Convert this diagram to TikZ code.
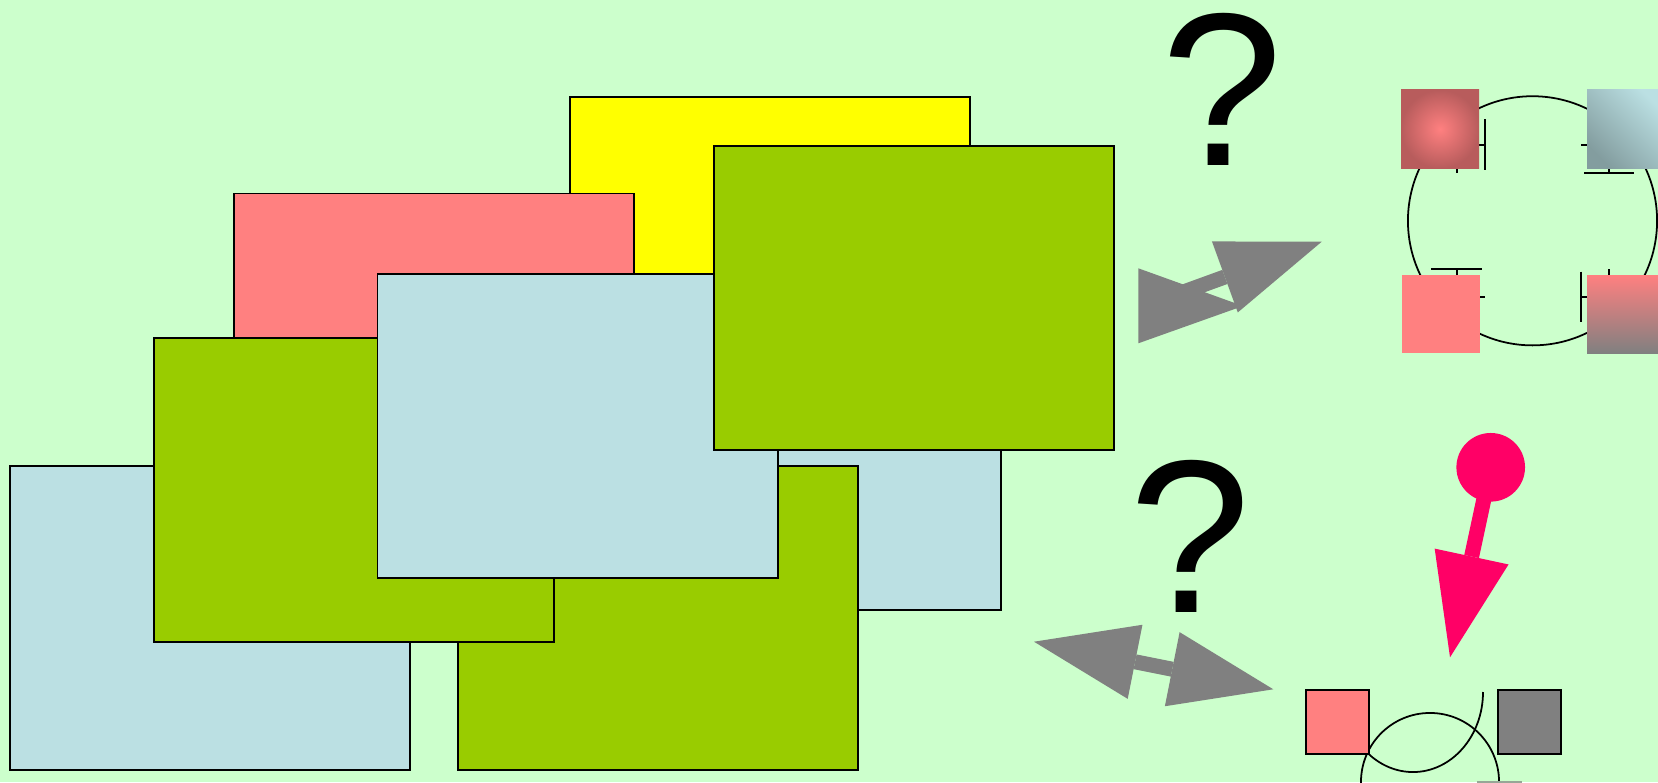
\documentclass[tikz,border=0pt]{standalone}
\usepackage{fontspec}
\setmainfont{Liberation Sans}
\usetikzlibrary{arrows.meta}
\definecolor{mint}{HTML}{CCFFCC}
\definecolor{paleblue}{HTML}{BBE0E3}
\definecolor{leaf}{HTML}{99CC00}
\definecolor{salmon}{HTML}{FF8080}
\definecolor{hotpink}{HTML}{FF0066}
\definecolor{midgray}{HTML}{808080}
\definecolor{lemon}{HTML}{FFFF00}
\tikzset{fathead/.tip={Triangle[length=1.03cm,width=0.755cm,line width=0pt]}}
\begin{document}
\begin{tikzpicture}[x=0.01cm,y=-0.01cm,
    card/.style={rectangle,draw,line width=0.55pt,anchor=north west,inner sep=0,outer sep=0,
      minimum width=4cm,minimum height=3.04cm},
    tile/.style={rectangle,anchor=north west,inner sep=0,outer sep=0,minimum size=0.78cm},
    box/.style={rectangle,draw,line width=0.55pt,anchor=north west,inner sep=0,outer sep=0,minimum size=0.635cm},
    qmark/.style={inner sep=0,font=\fontsize{62}{62}\selectfont},
    fatarrow/.style={line width=0.15cm,-fathead},
    tick/.style={line width=0.5pt}]
  \useasboundingbox (0,0) rectangle (1658,782);
  \fill[mint] (0,0) rectangle (1658,782);

  % stack of cards, back to front
  \node[card,fill=lemon]     (cardY)  at (570,97.3)   {};
  \node[card,fill=salmon]    (cardP)  at (233.7,193.5) {};
  \node[card,fill=paleblue]  (cardB1) at (10,466)     {};
  \node[card,fill=paleblue]  (cardB2) at (601,306)    {};
  \node[card,fill=leaf]      (cardG1) at (458,466)    {};
  \node[card,fill=leaf]      (cardG2) at (154,338)    {};
  \node[card,fill=paleblue]  (cardB3) at (377.5,274)  {};
  \node[card,fill=leaf]      (cardG3) at (713.7,145.9) {};

  % question marks
  \node[qmark] (askTop) at (1222.5,89.5) {?};
  \node[qmark] (askLow) at (1190.3,536.7) {?};

  % gray arrows
  \coordinate (upFrom) at (1167.8,297.7);
  \coordinate (upTo) at (1321.7,241.7);
  \fill[midgray] (1138.3,268.3) -- (1138.3,343.3) -- (1243,306) -- cycle;
  \draw[fatarrow,midgray] (upFrom) -- (upTo);
  \coordinate (lowL) at (1034,641.7);
  \coordinate (lowR) at (1273.3,689.3);
  \draw[fatarrow,fathead-fathead,midgray] (lowL) -- (lowR);

  % ring with four tiles
  \node[circle,draw,line width=0.5pt,minimum size=2.49cm,inner sep=0] (ring) at (1532.5,220.8) {};
  \draw[tick] (1485.3,119.3) -- (1485.3,170) (1470,145) -- (1485.3,145) (1456.7,160) -- (1456.7,173.3);
  \draw[tick] (1581,145) -- (1595,145) (1584,173.3) -- (1634.3,173.3) (1609,160) -- (1609,173.3);
  \draw[tick] (1431,269) -- (1481.7,269) (1456.7,269) -- (1456.7,285) (1470,297.3) -- (1485,297.3);
  \draw[tick] (1580.7,271.7) -- (1580.7,322.3) (1580.7,297.3) -- (1595,297.3) (1609,269.3) -- (1609,285);
  \node[tile,inner color=salmon,outer color=salmon!72!black] (tileA) at (1401,90) {};
  \node[tile,top color=paleblue,bottom color=paleblue!70!black,shading angle=-45] (tileB) at (1587,90) {};
  \node[tile,fill=salmon] (tileC) at (1402,275) {};
  \node[tile,top color=salmon,bottom color=midgray] (tileD) at (1587,275) {};

  % pin
  \node[circle,fill=hotpink,minimum size=0.686cm,inner sep=0] (pin) at (1490.7,467.3) {};
  \coordinate (pinTip) at (1450,657.3);
  \draw[fatarrow,hotpink] (pin.center) -- (pinTip);

  % lower pair
  \node[circle,draw,line width=0.5pt,minimum size=1.38cm,inner sep=0] (loop) at (1430,782) {};
  \coordinate (hookTop) at (1483,692);
  \draw[line width=0.5pt] (hookTop) arc[start angle=0,end angle=-130,x radius=0.7cm,y radius=0.8cm];
  \node[box,fill=salmon]  (boxL) at (1305.7,690) {};
  \node[box,fill=midgray] (boxR) at (1497.7,690) {};
  \fill[midgray!70!mint] (1477,781) rectangle (1522,784);
\end{tikzpicture}
\end{document}
